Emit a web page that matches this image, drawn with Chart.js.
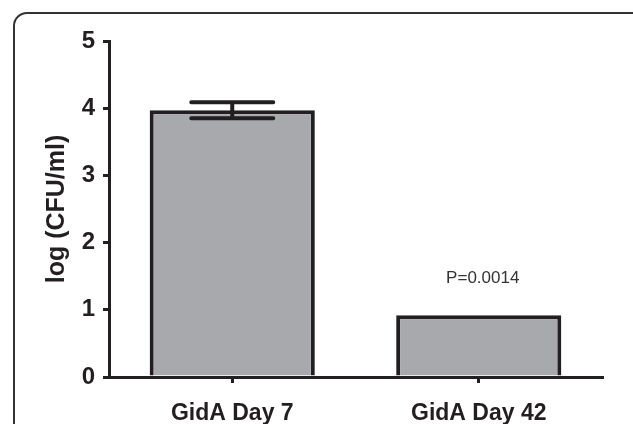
<!DOCTYPE html>
<html>
<head>
<meta charset="utf-8">
<script src="https://cdn.jsdelivr.net/npm/chart.js@4.4.0/dist/chart.umd.min.js"></script>
<style>
  html, body { margin: 0; padding: 0; background: #fff; overflow: hidden; }
  #wrap { position: relative; width: 633px; height: 424px; }
  #frame {
    position: absolute; left: 13px; top: 12px; width: 630px; height: 450px;
    border: 2px solid #333; border-radius: 14px; pointer-events: none;
  }
</style>
</head>
<body>
<div id="wrap">
  <canvas id="chart" width="633" height="424"></canvas>
  <div id="frame"></div>
</div>
<script>
// values
const categories = ['GidA Day 7', 'GidA Day 42'];
const logCfu = [3.97, 0.92];
const errors = [0.12, 0];
const pLabels = ['', 'P=0.0014'];
const yTicks = [0, 1, 2, 3, 4, 5];

const ink = '#231f20';

const errorBars = {
  id: 'errorBars',
  afterDatasetsDraw(chart) {
    const ctx = chart.ctx;
    const y = chart.scales.y;
    const meta = chart.getDatasetMeta(0);
    ctx.save();
    ctx.strokeStyle = ink;
    ctx.lineWidth = 4;
    ctx.lineCap = 'round';
    meta.data.forEach((bar, i) => {
      if (!errors[i]) return;
      const hi = y.getPixelForValue(logCfu[i] + errors[i]);
      const lo = y.getPixelForValue(logCfu[i] - errors[i]);
      ctx.beginPath();
      ctx.moveTo(bar.x, hi); ctx.lineTo(bar.x, lo);
      ctx.moveTo(bar.x - 41, hi); ctx.lineTo(bar.x + 41, hi);
      ctx.moveTo(bar.x - 41, lo); ctx.lineTo(bar.x + 41, lo);
      ctx.stroke();
    });
    // p value text
    ctx.fillStyle = '#333';
    ctx.font = '17px "Liberation Sans", Arial, sans-serif';
    ctx.textAlign = 'center';
    ctx.textBaseline = 'middle';
    meta.data.forEach((bar, i) => {
      if (!pLabels[i]) return;
      ctx.fillText(pLabels[i], bar.x + 4, bar.y - 37);
    });
    ctx.restore();
  }
};

new Chart(document.getElementById('chart'), {
  type: 'bar',
  data: {
    labels: categories,
    datasets: [{
      data: logCfu,
      backgroundColor: '#a7a9ac',
      borderColor: ink,
      borderWidth: 4,
      categoryPercentage: 1,
      barPercentage: 0.67
    }]
  },
  options: {
    responsive: false,
    animation: false,
    layout: { padding: { top: 41, right: 31, left: 0, bottom: 0 } },
    plugins: { legend: { display: false }, tooltip: { enabled: false } },
    scales: {
      x: {
        afterFit(s) { s.height = 47; },
        grid: { offset: false, drawOnChartArea: false, tickLength: 6, color: ink, lineWidth: 3 },
        border: { color: ink, width: 3 },
        ticks: {
          color: ink, padding: 17,
          font: { family: '"Liberation Sans", Arial, sans-serif', size: 23, weight: 'bold' }
        }
      },
      y: {
        min: 0, max: 5,
        afterFit(s) { s.width = 109; },
        afterBuildTicks(s) { s.ticks = yTicks.map(v => ({ value: v })); },
        grid: { drawOnChartArea: false, tickLength: 6, color: ink, lineWidth: 3 },
        border: { color: ink, width: 3 },
        ticks: {
          color: ink, padding: 8,
          font: { family: '"Liberation Sans", Arial, sans-serif', size: 24, weight: 'bold' }
        },
        title: {
          display: true, text: 'log (CFU/ml)', color: ink,
          padding: { top: 42, bottom: 0 },
          font: { family: '"Liberation Sans", Arial, sans-serif', size: 25, weight: 'bold' }
        }
      }
    }
  },
  plugins: [errorBars]
});
</script>
</body>
</html>
